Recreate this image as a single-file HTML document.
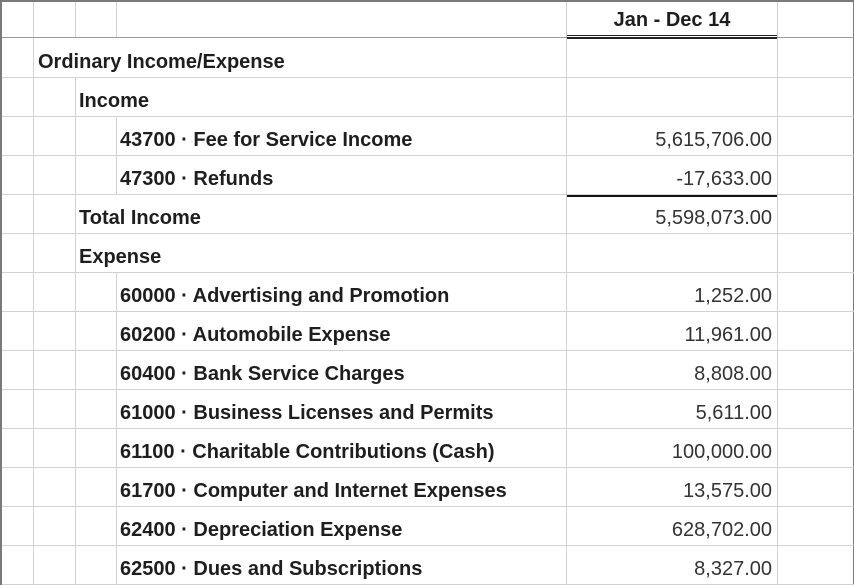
<!DOCTYPE html>
<html><head><style>
body{margin:0;width:854px;height:585px;overflow:hidden;background:#fff;font-family:"Liberation Sans",Arial,sans-serif;color:#222;position:relative}
.h{position:absolute;height:1px;background:#d2d2d2}
.v{position:absolute;width:1px;background:#d2d2d2}
.t{position:absolute;font-size:20px;font-weight:bold;white-space:nowrap;line-height:22px;color:#1e1e1e}
.n{position:absolute;font-size:20px;white-space:nowrap;right:82px;line-height:22px;color:#333}
</style></head><body>
<div style="position:absolute;left:0;top:0;border:1px solid #7a7a7a;border-top:2px solid #7a7a7a;border-left:2px solid #7a7a7a;box-sizing:border-box;width:854px;height:585px"></div>
<div class="v" style="left:33px;top:2px;height:583px"></div>
<div class="v" style="left:75px;top:2px;height:36px"></div>
<div class="v" style="left:116px;top:2px;height:36px"></div>
<div class="v" style="left:566px;top:2px;height:583px"></div>
<div class="v" style="left:777px;top:2px;height:583px"></div>
<div style="position:absolute;left:2px;top:37px;width:852px;height:1px;background:#9a9a9a"></div>
<div style="position:absolute;left:567px;top:35px;width:210px;height:1px;background:#222"></div>
<div style="position:absolute;left:567px;top:37px;width:210px;height:2px;background:#222"></div>
<div class="t" style="left:567px;width:210px;text-align:center;top:9px">Jan - Dec 14</div>
<div id="rows"></div>
<script>
var rows=[
[0,"Ordinary Income/Expense",""],
[1,"Income",""],
[2,"43700 · Fee for Service Income","5,615,706.00"],
[2,"47300 · Refunds","-17,633.00"],
[1,"Total Income","5,598,073.00"],
[1,"Expense",""],
[2,"60000 · Advertising and Promotion","1,252.00"],
[2,"60200 · Automobile Expense","11,961.00"],
[2,"60400 · Bank Service Charges","8,808.00"],
[2,"61000 · Business Licenses and Permits","5,611.00"],
[2,"61100 · Charitable Contributions (Cash)","100,000.00"],
[2,"61700 · Computer and Internet Expenses","13,575.00"],
[2,"62400 · Depreciation Expense","628,702.00"],
[2,"62500 · Dues and Subscriptions","8,327.00"]];
var h="";
rows.forEach(function(r,i){
 var y=38+i*39;
 var lv=r[0];
 if(lv>=1)h+='<div class="v" style="left:75px;top:'+y+'px;height:39px"></div>';
 if(lv>=2)h+='<div class="v" style="left:116px;top:'+y+'px;height:39px"></div>';
 var tx=[38,79,120][lv];
 var fw=lv<2?'600':'bold';
 h+='<div class="t" style="left:'+tx+'px;top:'+(y+13)+'px;font-weight:'+fw+'">'+r[1]+'</div>';
 if(r[2])h+='<div class="n" style="top:'+(y+13)+'px">'+r[2]+'</div>';
 var ny=y+39;
 if(ny<585) h+='<div class="h" style="left:2px;top:'+ny+'px;width:852px"></div>';
});
h+='<div style="position:absolute;left:567px;top:195px;width:210px;height:2px;background:#111"></div>';
document.getElementById("rows").innerHTML=h;
</script>
</body></html>
